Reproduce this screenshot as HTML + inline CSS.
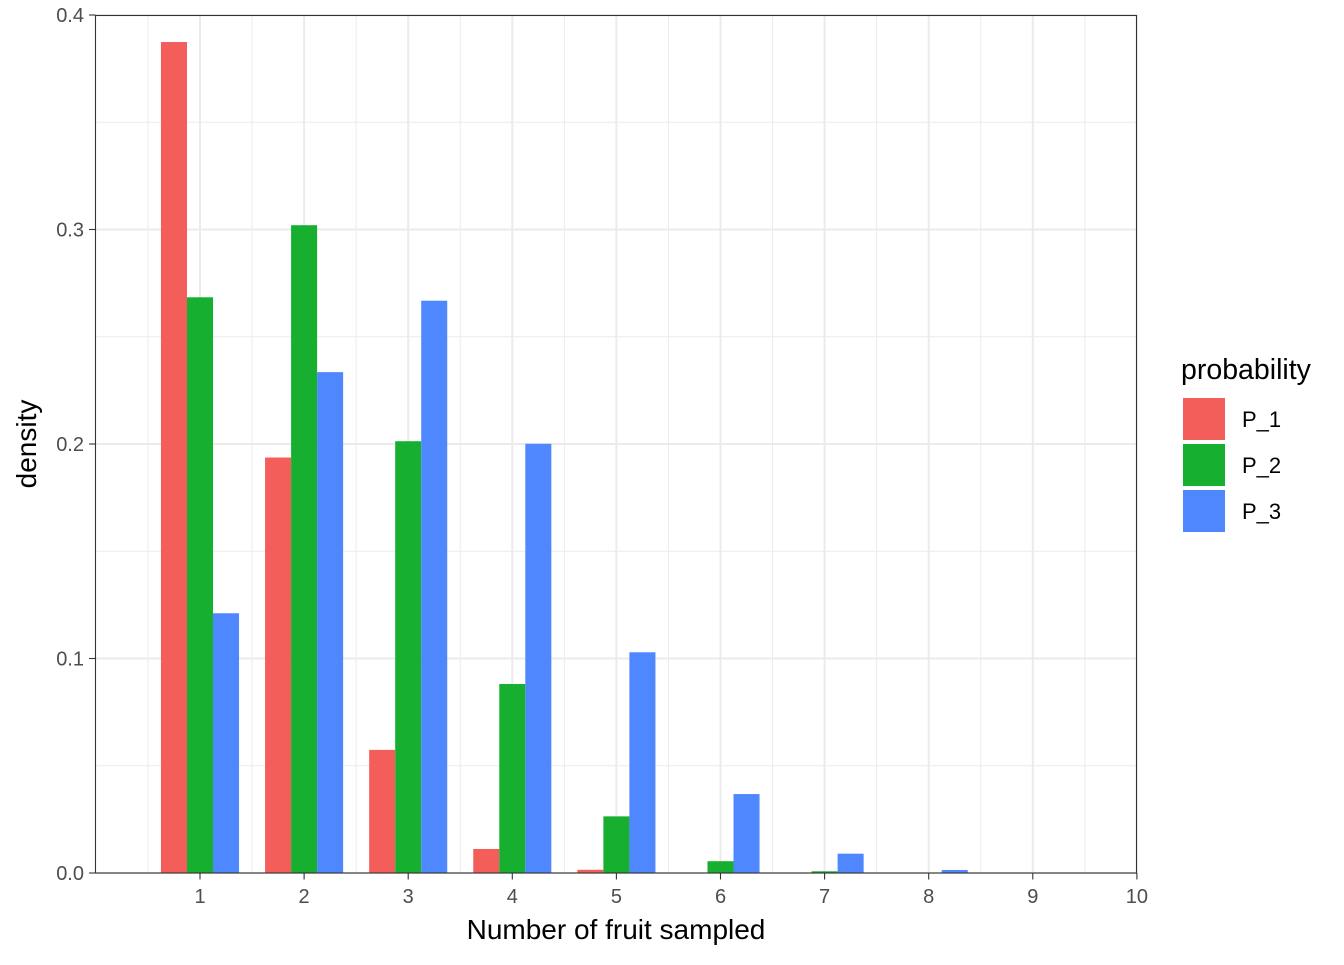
<!DOCTYPE html>
<html><head><meta charset="utf-8"><style>
body{margin:0;background:#fff;}
svg text{font-family:"Liberation Sans",Arial,sans-serif;}
</style></head><body>
<svg id="chart" width="1344" height="960" xmlns="http://www.w3.org/2000/svg">
<g id="grid"></g>
<g id="bars"></g>
<rect x="95.5" y="15.5" width="1041" height="857.5" fill="none" stroke="#333" stroke-width="1.1"/>
<g id="axes"></g>
<text x="616" y="939" font-size="28" text-anchor="middle" fill="#000">Number of fruit sampled</text>
<text transform="translate(36,444) rotate(-90)" font-size="28" text-anchor="middle" fill="#000">density</text>
<g>
<text x="1181" y="379" font-size="28.5" fill="#000">probability</text>
<rect x="1183" y="398" width="42" height="42" fill="#F35E5A"/>
<rect x="1183" y="444" width="42" height="42" fill="#17AF2F"/>
<rect x="1183" y="490" width="42" height="42" fill="#4F87FE"/>
<text x="1242" y="427" font-size="22" fill="#000">P_1</text>
<text x="1242" y="473" font-size="22" fill="#000">P_2</text>
<text x="1242" y="519" font-size="22" fill="#000">P_3</text>
</g>
</svg>
<script>
const categories=[1,2,3,4,5,6,7,8,9,10];
const p1=[0.3874,0.1937,0.0574,0.0112,0.0015,0.0001,0,0,0,0];
const p2=[0.2684,0.3020,0.2013,0.0881,0.0264,0.0055,0.0008,0.0001,0,0];
const p3=[0.1211,0.2335,0.2668,0.2001,0.1029,0.0368,0.0090,0.0014,0.0001,0];
const yTicks=[0,0.1,0.2,0.3,0.4];
const yTickLabels=["0.0","0.1","0.2","0.3","0.4"];
const xTicks=[1,2,3,4,5,6,7,8,9,10];
const NS="http://www.w3.org/2000/svg";
const X=v=>95.9+v*104.1;
const Y=v=>873-v*2145;
function mk(tag,attrs,parent){const e=document.createElementNS(NS,tag);for(const k in attrs)e.setAttribute(k,attrs[k]);parent.appendChild(e);return e;}
const grid=document.getElementById('grid'),bars=document.getElementById('bars'),axes=document.getElementById('axes');
for(let v=0.05;v<0.4;v+=0.1){const l=mk('line',{x1:95.5,x2:1136.5,y1:Y(v),y2:Y(v),stroke:'#ebebeb','stroke-width':1},grid);

}
for(let v=0.5;v<10;v+=1){const l=mk('line',{x1:X(v),x2:X(v),y1:15,y2:873,stroke:'#ebebeb','stroke-width':1},grid);

}
yTicks.forEach((t,i)=>{const l=mk('line',{x1:95.5,x2:1136.5,y1:Y(t),y2:Y(t),stroke:'#ebebeb','stroke-width':2},grid);


const tk=mk('line',{x1:89,x2:95.5,y1:Y(t),y2:Y(t),stroke:'#333','stroke-width':1.1},axes);


const tx=mk('text',{x:84,y:Y(t)+7,'font-size':20,'text-anchor':'end',fill:'#4d4d4d'},axes);tx.textContent=yTickLabels[i];

});
xTicks.forEach(t=>{const l=mk('line',{x1:X(t),x2:X(t),y1:15,y2:873,stroke:'#ebebeb','stroke-width':2},grid);


const tk=mk('line',{x1:X(t),x2:X(t),y1:873,y2:879.5,stroke:'#333','stroke-width':1.1},axes);


const tx=mk('text',{x:X(t),y:903,'font-size':20,'text-anchor':'middle',fill:'#4d4d4d'},axes);tx.textContent=t;

});
const series=[[p1,'#F35E5A','p1'],[p2,'#17AF2F','p2'],[p3,'#4F87FE','p3']];
const bw=0.25;
categories.forEach((c,i)=>{series.forEach((s,j)=>{const v=s[0][i];const x0=X(c-0.375+j*bw);
const r=mk('rect',{x:x0,y:Y(v),width:bw*104.1,height:Math.max(0,873-Y(v)),fill:s[1]},bars);

});});
</script>
</body></html>
